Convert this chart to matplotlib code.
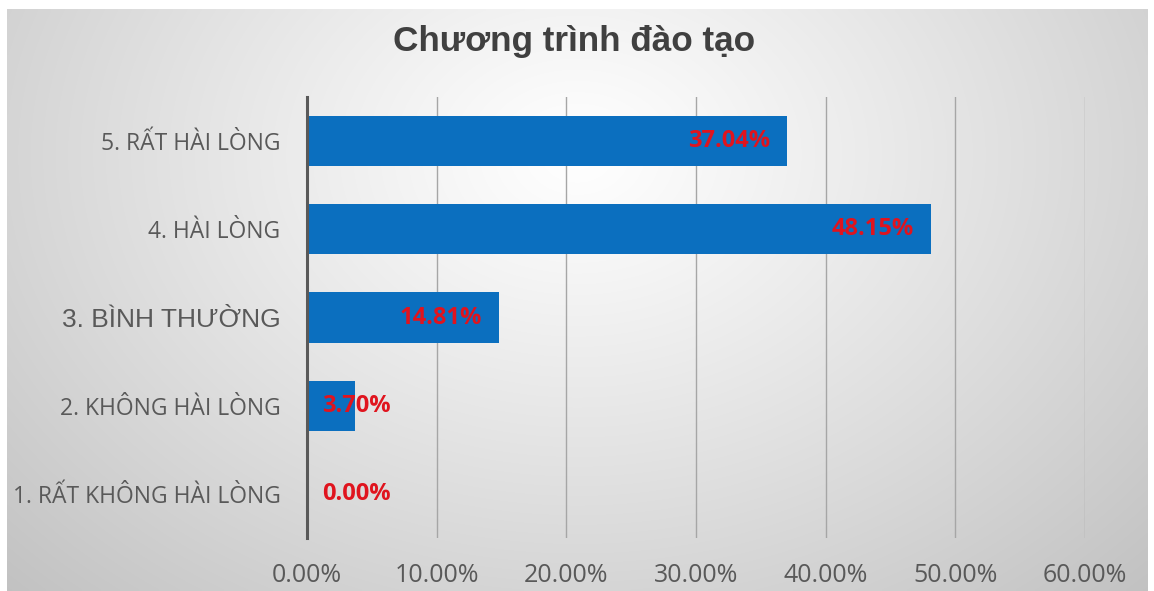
import numpy as np
import matplotlib
matplotlib.use("Agg")
import matplotlib.pyplot as plt
from matplotlib.ticker import FixedLocator, FuncFormatter

# Survey result: satisfaction with the training programme
categories = [
    "1. RẤT KHÔNG HÀI LÒNG",
    "2. KHÔNG HÀI LÒNG",
    "3. BÌNH THƯỜNG",
    "4. HÀI LÒNG",
    "5. RẤT HÀI LÒNG",
]
shares = [0.0000, 0.0370, 0.1481, 0.4815, 0.3704]
x_ticks = [0.0, 0.1, 0.2, 0.3, 0.4, 0.5, 0.6]
title = "Chương trình đào tạo"

W, H = 1154, 591
fig = plt.figure(figsize=(W / 100, H / 100), dpi=100)
fig.patch.set_facecolor("white")

# Chart area with a soft radial grey gradient
bg = fig.add_axes([7 / W, 0, 1141 / W, 582 / H])
bg.set_axis_off()
gx, gy = np.meshgrid(np.linspace(0, 1, 400), np.linspace(0, 1, 200))
d = np.sqrt(((gx - 0.5) / 0.5) ** 2 + ((gy - 0.25) / 0.75) ** 2) / np.sqrt(2)
shade = 1.0 - 0.24 * np.clip(d, 0, 1) ** 1.1
bg.imshow(np.dstack([shade] * 3), aspect="auto", extent=[0, 1, 1, 0],
          interpolation="bilinear")
bg.set_xlim(0, 1)
bg.set_ylim(1, 0)

ax = fig.add_axes([307 / W, (H - 538) / H, 778 / W, 441 / H])
ax.set_facecolor("none")

y = np.arange(len(categories))
bar_color = "#0B6FBF"
ax.barh(y, shares, height=0.57, color=bar_color, zorder=3)

ax.set_xlim(0, 0.6)
ax.set_ylim(-0.5, len(categories) - 0.5)
ax.xaxis.set_major_locator(FixedLocator(x_ticks))
ax.xaxis.set_major_formatter(FuncFormatter(lambda v, p: f"{v * 100:.2f}%"))
ax.grid(axis="x", color="#A6A6A6", linewidth=1.0, zorder=0)
ax.grid(axis="y", visible=False)

for s in ["top", "right", "bottom"]:
    ax.spines[s].set_visible(False)
ax.spines["left"].set_color("#595959")
ax.spines["left"].set_linewidth(2.2)
ax.spines["left"].set_zorder(4)

ax.tick_params(axis="x", length=0, pad=18, labelsize=18, labelcolor="#595959")
ax.tick_params(axis="y", length=0, pad=19, labelsize=16.5, labelcolor="#595959")
for lab in ax.get_xticklabels():
    lab.set_fontfamily("Open Sans")
ax.set_yticks(y)
ax.set_yticklabels(categories)
for lab in ax.get_yticklabels():
    lab.set_fontfamily("Open Sans")
    if lab.get_text().startswith("3."):
        lab.set_fontfamily("Liberation Sans")
        lab.set_fontsize(19)

# Value labels: inside the bar end, or just right of the axis for short bars
label_style = dict(va="center", color="#E0141E", fontsize=17,
                   fontweight="bold", fontfamily="Open Sans", zorder=5,
                   textcoords="offset pixels")
for yi, v in zip(y, shares):
    txt = f"{v * 100:.2f}%"
    if v >= 0.10:
        ax.annotate(txt, (v, yi), xytext=(-17, 0), ha="right", **label_style)
    else:
        ax.annotate(txt, (0, yi), xytext=(15, 0), ha="left", **label_style)

fig.text(574 / W, 1 - 42 / H, title, ha="center", va="center",
         fontsize=25.3, fontweight="bold", color="#404040",
         fontfamily="Liberation Sans")

fig.savefig("out.png", dpi=100, facecolor="white")
